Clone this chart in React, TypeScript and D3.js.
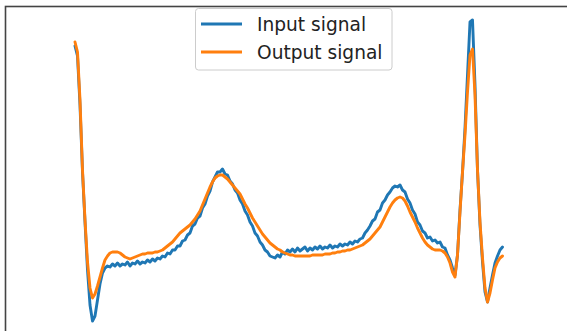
import React, { useEffect, useRef } from "react";
import * as d3 from "d3";

// raw samples (adc units), one per time step
const inputSignal = [
  354, 344, 295, 228, 178, 130, 95, 79, 84, 100,
  116, 127, 132, 134, 133, 136, 134, 137, 134, 136,
  135, 138, 134, 137, 136, 139, 136, 138, 137, 140,
  138, 141, 139, 142, 141, 144, 143, 147, 146, 150,
  150, 154, 154, 159, 160, 165, 167, 174, 176, 182,
  184, 192, 196, 204, 209, 218, 223, 228, 228, 231,
  226, 225, 219, 216, 210, 207, 200, 196, 189, 185,
  178, 174, 167, 164, 158, 155, 150, 148, 144, 143,
  142, 145, 143, 148, 146, 150, 148, 151, 148, 152,
  149, 151, 153, 149, 152, 150, 153, 151, 154, 151,
  153, 152, 155, 152, 154, 153, 156, 154, 156, 155,
  158, 156, 159, 158, 161, 162, 167, 170, 174, 179,
  181, 188, 190, 197, 200, 205, 208, 212, 214, 213,
  215, 210, 208, 201, 197, 190, 186, 178, 175, 169,
  167, 162, 163, 159, 160, 157, 158, 153, 152, 145,
  140, 132, 125, 145, 190, 228, 272, 325, 378, 380,
  315, 230, 175, 138, 108, 98, 112, 125, 137, 144,
  150, 153,
];

const outputSignal = [
  358, 348, 300, 230, 180, 138, 112, 102, 106, 114,
  123, 132, 140, 144, 147, 148, 148, 148, 147, 145,
  143, 142, 141, 142, 143, 144, 145, 146, 146, 147,
  147, 147, 148, 148, 149, 150, 152, 154, 156, 158,
  161, 164, 167, 169, 171, 173, 175, 178, 181, 185,
  189, 195, 201, 207, 213, 218, 222, 224, 225, 225,
  223, 221, 218, 215, 212, 209, 206, 201, 196, 192,
  187, 182, 178, 174, 170, 166, 163, 160, 157, 155,
  153, 151, 150, 148, 147, 146, 145, 145, 144, 144,
  144, 144, 144, 144, 144, 145, 145, 145, 145, 145,
  146, 146, 146, 147, 147, 148, 148, 149, 149, 150,
  150, 151, 152, 153, 154, 155, 157, 159, 161, 164,
  167, 170, 173, 178, 183, 188, 193, 197, 200, 202,
  203, 202, 199, 194, 188, 183, 178, 172, 167, 162,
  158, 155, 153, 151, 150, 150, 150, 149, 147, 143,
  137, 128, 123, 145, 188, 228, 265, 308, 345, 351,
  305, 230, 178, 142, 112, 98, 107, 120, 132, 138,
  142, 144,
];

const seriesNames = ["Input signal", "Output signal"];
const seriesColors = ["#1f77b4", "#ff7f0e"];

const W = 567;
const H = 331;

export default function App() {
  const ref = useRef<SVGSVGElement>(null);

  useEffect(() => {
    const svg = d3.select(ref.current);
    svg.selectAll("*").remove();

    const n = inputSignal.length;
    const x = d3.scaleLinear().domain([0, n - 1]).range([75, 502.5]);
    const all = inputSignal.concat(outputSignal);
    const y = d3
      .scaleLinear()
      .domain([d3.min(all) as number, d3.max(all) as number])
      .range([321, 20]);

    svg.append("rect").attr("width", W).attr("height", H).attr("fill", "#fff");

    // axes frame (only top and left are visible)
    svg
      .append("rect")
      .attr("x", 5.5)
      .attr("y", 6.5)
      .attr("width", 700)
      .attr("height", 500)
      .attr("fill", "none")
      .attr("stroke", "#444")
      .attr("stroke-width", 1.6);

    const line = d3
      .line<number>()
      .x((d, i) => x(i))
      .y(d => y(d));

    [inputSignal, outputSignal].forEach((s, k) => {
      svg
        .append("path")
        .datum(s)
        .attr("d", line)
        .attr("fill", "none")
        .attr("stroke", seriesColors[k])
        .attr("stroke-width", 2.9)
        .attr("stroke-linejoin", "round")
        .attr("stroke-linecap", "round");
    });

    // legend
    const lg = svg.append("g");
    lg.append("rect")
      .attr("x", 195.5)
      .attr("y", 8.5)
      .attr("width", 196.5)
      .attr("height", 61.5)
      .attr("rx", 3)
      .attr("fill", "#fff")
      .attr("fill-opacity", 0.8)
      .attr("stroke", "#ccc")
      .attr("stroke-width", 1);

    seriesNames.forEach((name, k) => {
      const cy = 24 + k * 28;
      lg.append("line")
        .attr("x1", 201)
        .attr("x2", 242)
        .attr("y1", cy)
        .attr("y2", cy)
        .attr("stroke", seriesColors[k])
        .attr("stroke-width", 2.9);
      lg.append("text")
        .attr("x", 257)
        .attr("y", cy + 6.7)
        .attr("font-family", "DejaVu Sans")
        .attr("font-size", 18.6)
        .attr("fill", "#222")
        .text(name);
    });
  }, []);

  return (
    <svg
      ref={ref}
      width={W}
      height={H}
      style={{ position: "fixed", left: 0, top: 0, display: "block" }}
    />
  );
}
